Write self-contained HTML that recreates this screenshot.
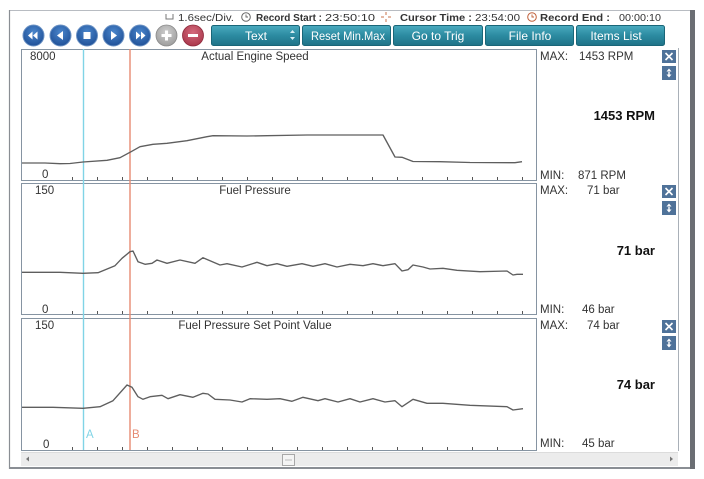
<!DOCTYPE html>
<html><head><meta charset="utf-8"><style>
html,body{margin:0;padding:0;background:#fff;}
svg{display:block;font-family:"Liberation Sans",sans-serif;}
</style></head><body>
<svg width="704" height="479" viewBox="0 0 704 479" xmlns="http://www.w3.org/2000/svg">
<defs>
<linearGradient id="tb" x1="0" y1="0" x2="0" y2="1"><stop offset="0" stop-color="#4aaabf"/><stop offset="0.5" stop-color="#2c8ba1"/><stop offset="1" stop-color="#1f7287"/></linearGradient>
<radialGradient id="bb" cx="0.5" cy="0.35" r="0.7"><stop offset="0" stop-color="#4a86cc"/><stop offset="1" stop-color="#1d4d94"/></radialGradient>
<radialGradient id="gb" cx="0.5" cy="0.35" r="0.7"><stop offset="0" stop-color="#cfcfcf"/><stop offset="1" stop-color="#9a9a9a"/></radialGradient>
<radialGradient id="rb" cx="0.5" cy="0.35" r="0.7"><stop offset="0" stop-color="#d46a7c"/><stop offset="1" stop-color="#a63448"/></radialGradient>
</defs>
<rect width="704" height="479" fill="#fff"/>
<!-- outer frame -->
<line x1="9" y1="10.5" x2="690" y2="10.5" stroke="#b8bcc2" stroke-width="1"/>
<line x1="9.5" y1="10" x2="9.5" y2="469" stroke="#8a8e94" stroke-width="1.2"/>
<line x1="9" y1="468" x2="691" y2="468" stroke="#8a8e94" stroke-width="2"/>
<rect x="690" y="10" width="5" height="459" fill="#6b6e73"/>

<!-- header info -->
<path d="M166 14 V19 H173 V14" fill="none" stroke="#777" stroke-width="1"/>
<text x="178" y="21" font-size="10.5" fill="#333" textLength="56" lengthAdjust="spacingAndGlyphs">1.6sec/Div.</text>
<circle cx="246" cy="17" r="4.3" fill="none" stroke="#666" stroke-width="1"/><path d="M246 14.5 V17 H248" fill="none" stroke="#666" stroke-width="0.9"/>
<text x="256" y="21" font-size="10.5" font-weight="bold" fill="#333" textLength="66" lengthAdjust="spacingAndGlyphs">Record Start :</text>
<text x="325" y="21" font-size="10.5" fill="#333" textLength="50" lengthAdjust="spacingAndGlyphs">23:50:10</text>
<g stroke="#c8704a" stroke-width="1"><line x1="381" y1="17" x2="384" y2="17"/><line x1="388" y1="17" x2="391" y2="17"/><line x1="386" y1="12" x2="386" y2="15"/><line x1="386" y1="19" x2="386" y2="22"/></g>
<text x="400" y="21" font-size="10.5" font-weight="bold" fill="#333" textLength="72" lengthAdjust="spacingAndGlyphs">Cursor Time :</text>
<text x="475" y="21" font-size="10.5" fill="#333" textLength="45" lengthAdjust="spacingAndGlyphs">23:54:00</text>
<circle cx="532" cy="17" r="4.3" fill="none" stroke="#c0603a" stroke-width="1"/><path d="M532 14.5 V17 H534" fill="none" stroke="#c0603a" stroke-width="0.9"/>
<text x="540" y="21" font-size="10.5" font-weight="bold" fill="#333" textLength="70" lengthAdjust="spacingAndGlyphs">Record End :</text>
<text x="619" y="21" font-size="10.5" fill="#333" textLength="42" lengthAdjust="spacingAndGlyphs">00:00:10</text>

<!-- round buttons -->
<g>
<circle cx="33.5" cy="35.5" r="10.5" fill="url(#bb)" stroke="#6d93c4" stroke-width="1"/>
<path d="M28 35.5 L32.5 31.5 V39.5 Z M33 35.5 L37.5 31.5 V39.5 Z" fill="#fff"/>
<circle cx="60.5" cy="35.5" r="10.5" fill="url(#bb)" stroke="#6d93c4" stroke-width="1"/>
<path d="M57 35.5 L63 31 V40 Z" fill="#fff"/>
<circle cx="87" cy="35.5" r="10.5" fill="url(#bb)" stroke="#6d93c4" stroke-width="1"/>
<rect x="83.5" y="32" width="7" height="7" fill="#fff"/>
<circle cx="113.5" cy="35.5" r="10.5" fill="url(#bb)" stroke="#6d93c4" stroke-width="1"/>
<path d="M117 35.5 L111 31 V40 Z" fill="#fff"/>
<circle cx="140" cy="35.5" r="10.5" fill="url(#bb)" stroke="#6d93c4" stroke-width="1"/>
<path d="M145.5 35.5 L141 31.5 V39.5 Z M140.5 35.5 L136 31.5 V39.5 Z" fill="#fff"/>
<circle cx="166.5" cy="35.5" r="10.5" fill="url(#gb)" stroke="#8a8a8a" stroke-width="0.8"/>
<path d="M166.5 30.5 V40.5 M161.5 35.5 H171.5" stroke="#fff" stroke-width="3"/>
<circle cx="193" cy="35.5" r="10.5" fill="url(#rb)" stroke="#8e2a3c" stroke-width="0.8"/>
<path d="M188 35.5 H198" stroke="#fff" stroke-width="3"/>
</g>

<!-- rectangular buttons -->
<g font-size="12" fill="#fff" text-anchor="middle">
<rect x="211.5" y="25.5" width="88" height="20" rx="2" fill="url(#tb)" stroke="#1a6678"/>
<text x="256" y="40">Text</text>
<path d="M290 33 L292.5 30 L295 33 Z M290 37 L292.5 40 L295 37 Z" fill="#d8eef3"/>
<rect x="302.5" y="25.5" width="88" height="20" rx="2" fill="url(#tb)" stroke="#1a6678"/>
<text x="348" y="40" textLength="74" lengthAdjust="spacingAndGlyphs">Reset Min.Max</text>
<rect x="393.5" y="25.5" width="89" height="20" rx="2" fill="url(#tb)" stroke="#1a6678"/>
<text x="438" y="40">Go to Trig</text>
<rect x="485.5" y="25.5" width="88" height="20" rx="2" fill="url(#tb)" stroke="#1a6678"/>
<text x="530" y="40">File Info</text>
<rect x="576.5" y="25.5" width="88" height="20" rx="2" fill="url(#tb)" stroke="#1a6678"/>
<text x="616" y="40">Items List</text>
</g>

<!-- right panel edge -->
<line x1="678.5" y1="48" x2="678.5" y2="451" stroke="#a9b0b8" stroke-width="1"/>

<!-- panels -->
<g fill="none" stroke="#8694a2" stroke-width="1">
<rect x="21.5" y="49.5" width="515" height="131"/>
<rect x="21.5" y="183.5" width="515" height="131"/>
<rect x="21.5" y="318.5" width="515" height="132"/>
</g>
<!-- ticks -->
<g stroke="#555" stroke-width="1">
<path d="M72.5 177V180 M97.5 177V180 M122.5 177V180 M147.5 177V180 M172.5 177V180 M197.5 177V180 M222.5 177V180 M247.5 177V180 M272.5 177V180 M297.5 177V180 M322.5 177V180 M347.5 177V180 M372.5 177V180 M397.5 177V180 M422.5 177V180 M447.5 177V180 M472.5 177V180 M497.5 177V180 M522.5 177V180"/>
<path d="M72.5 311V314 M97.5 311V314 M122.5 311V314 M147.5 311V314 M172.5 311V314 M197.5 311V314 M222.5 311V314 M247.5 311V314 M272.5 311V314 M297.5 311V314 M322.5 311V314 M347.5 311V314 M372.5 311V314 M397.5 311V314 M422.5 311V314 M447.5 311V314 M472.5 311V314 M497.5 311V314 M522.5 311V314"/>
<path d="M72.5 447V450 M97.5 447V450 M122.5 447V450 M147.5 447V450 M172.5 447V450 M197.5 447V450 M222.5 447V450 M247.5 447V450 M272.5 447V450 M297.5 447V450 M322.5 447V450 M347.5 447V450 M372.5 447V450 M397.5 447V450 M422.5 447V450 M447.5 447V450 M472.5 447V450 M497.5 447V450 M522.5 447V450"/>
</g>

<!-- cursors -->
<line x1="83.5" y1="49" x2="83.5" y2="450" stroke="#80d4e6" stroke-width="1.4"/>
<line x1="130" y1="49" x2="130" y2="450" stroke="#e68a72" stroke-width="1.4"/>
<text x="86" y="438" font-size="11.5" fill="#80d4e6">A</text>
<text x="132" y="438" font-size="11.5" fill="#e68a72">B</text>

<!-- series -->
<g fill="none" stroke="#5e5e5e" stroke-width="1.35" stroke-linejoin="round">
<polyline points="22,163 45,163 60,163.7 70,163.5 83,162 107,160.3 120,157.7 130,152.3 140,146.7 153,144.3 167,143.3 187,140.7 207,136.7 213,135.7 247,136 267,135.7 307,135 383,135 395,157 402,157.3 413,161.5 440,161.7 470,162.5 515,162.7 522,161.7"/>
<polyline points="22,272.3 60,272.3 83,273.3 98,272.7 115,265.7 122,258.3 130,251.7 133,251 138,261.7 145,264.3 152,263.3 157,260 167,263.3 180,260 195,263.3 203,257.7 220,265 227,263.7 242,267 257,262.3 267,265.7 277,263.7 287,266.3 302,263.7 313,266.3 325,263.7 337,267 350,264.3 363,265.7 373,263.7 383,265.7 395,263.7 402,271 408,269.7 413,265 423,267 430,269 443,268.3 457,270.3 480,271.7 507,271 513,275 517,274.3 523,274.3"/>
<polyline points="22,407.3 53,407.3 83,408.3 100,406.7 113,400.7 127,385 132,387.3 138,396.7 143,399.3 150,396.7 162,395.3 168,398.7 180,394.7 193,397.3 203,393.3 208,394 215,399.3 230,400 242,402 250,398.7 267,399.3 280,398.7 292,401.3 303,397.3 318,400.7 325,398.7 338,402 350,398.7 360,402 373,398.7 385,402 395,400.7 402,406.7 413,399.3 427,403.3 443,403.3 470,405.3 507,406.7 513,410 523,408.7"/>
</g>

<!-- axis labels & titles -->
<g font-size="11.5" fill="#333">
<text x="30" y="60">8000</text>
<text x="42" y="178">0</text>
<text x="35" y="194">150</text>
<text x="42" y="313">0</text>
<text x="35" y="329">150</text>
<text x="43" y="448">0</text>
<text x="255" y="60" text-anchor="middle">Actual Engine Speed</text>
<text x="255" y="194" text-anchor="middle">Fuel Pressure</text>
<text x="255" y="329" text-anchor="middle">Fuel Pressure Set Point Value</text>
</g>

<!-- right side values -->
<g font-size="11.5" fill="#333">
<text x="540" y="60">MAX:</text><text x="579" y="60">1453 RPM</text>
<text x="540" y="179">MIN:</text><text x="578" y="179">871 RPM</text>
<text x="540" y="194">MAX:</text><text x="587" y="194">71 bar</text>
<text x="540" y="313">MIN:</text><text x="582" y="313">46 bar</text>
<text x="540" y="329">MAX:</text><text x="587" y="329">74 bar</text>
<text x="540" y="447">MIN:</text><text x="582" y="447">45 bar</text>
</g>
<g font-size="13" font-weight="bold" fill="#111" text-anchor="end">
<text x="655" y="120">1453 RPM</text>
<text x="655" y="255">71 bar</text>
<text x="655" y="389">74 bar</text>
</g>

<!-- small box buttons -->
<g>
<rect x="662" y="50" width="14" height="13" fill="#4f7299"/>
<path d="M665.5 53 L672.5 60 M672.5 53 L665.5 60" stroke="#fff" stroke-width="1.6"/>
<rect x="662" y="66" width="14" height="14" fill="#4f7299"/>
<path d="M669 68.5 L666.5 71.5 H671.5 Z M669 77.5 L666.5 74.5 H671.5 Z M668.3 71 h1.4 v4 h-1.4 Z" fill="#fff"/>
<rect x="662" y="185" width="14" height="13" fill="#4f7299"/>
<path d="M665.5 188 L672.5 195 M672.5 188 L665.5 195" stroke="#fff" stroke-width="1.6"/>
<rect x="662" y="201" width="14" height="14" fill="#4f7299"/>
<path d="M669 203.5 L666.5 206.5 H671.5 Z M669 212.5 L666.5 209.5 H671.5 Z M668.3 206 h1.4 v4 h-1.4 Z" fill="#fff"/>
<rect x="662" y="320" width="14" height="13" fill="#4f7299"/>
<path d="M665.5 323 L672.5 330 M672.5 323 L665.5 330" stroke="#fff" stroke-width="1.6"/>
<rect x="662" y="336" width="14" height="14" fill="#4f7299"/>
<path d="M669 338.5 L666.5 341.5 H671.5 Z M669 347.5 L666.5 344.5 H671.5 Z M668.3 341 h1.4 v4 h-1.4 Z" fill="#fff"/>
</g>

<!-- scrollbar -->
<rect x="21" y="452" width="657" height="14" fill="#ececec"/>
<line x1="21" y1="452.5" x2="678" y2="452.5" stroke="#dcdcdc"/>
<path d="M26 459 L29 456.5 V461.5 Z" fill="#777"/>
<path d="M673 459 L670 456.5 V461.5 Z" fill="#777"/>
<rect x="282.5" y="454.5" width="12" height="11" fill="#f4f4f4" stroke="#a8a8a8"/>
<line x1="285" y1="460" x2="292" y2="460" stroke="#bbb"/>
</svg>
</body></html>
